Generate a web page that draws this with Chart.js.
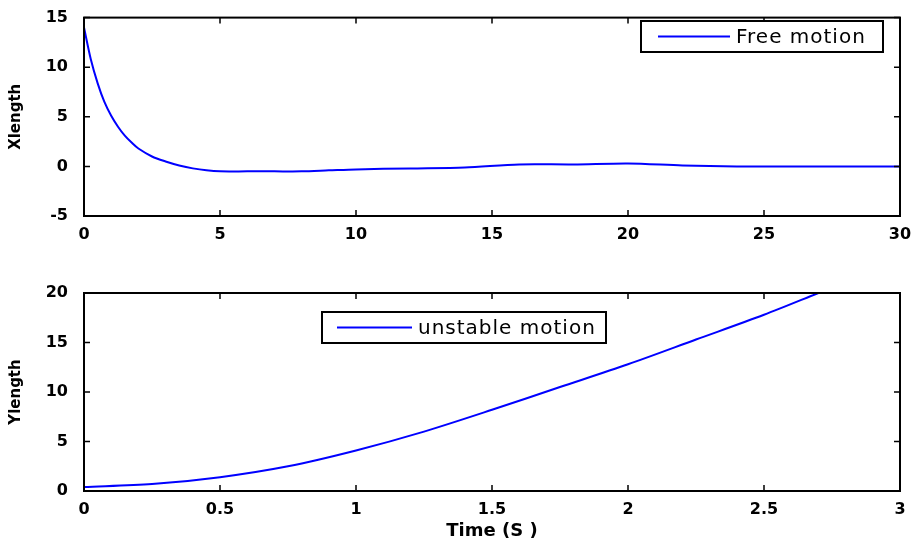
<!DOCTYPE html>
<html>
<head>
<meta charset="utf-8">
<script src="https://cdn.jsdelivr.net/npm/chart.js@4/dist/chart.umd.min.js"></script>
<style>
  html, body { margin: 0; padding: 0; background: #fff; }
  .box { position: absolute; left: 0; width: 915px; }
  #top { top: 0; height: 250px; }
  #bottom { top: 250px; height: 292px; }
</style>
</head>
<body>
<div class="box" id="top"><canvas id="chart_free"></canvas></div>
<div class="box" id="bottom"><canvas id="chart_unstable"></canvas></div>
<script>
// free motion (Xlength vs time)
const freeTime = [0, 0.25, 0.5, 0.75, 1, 1.25, 1.5, 1.75, 2, 2.5, 3, 3.5, 4, 4.5, 5, 6, 7, 8, 9, 10, 12, 14, 16, 18, 20, 22, 24, 26, 28, 30];
const freeX = [14, 10.8, 8.4, 6.5, 5.1, 4.0, 3.1, 2.4, 1.8, 1.0, 0.5, 0.1, -0.2, -0.4, -0.5, -0.5, -0.5, -0.5, -0.4, -0.3, -0.2, -0.1, 0.2, 0.2, 0.3, 0.1, 0.0, 0.0, 0.0, 0.0];

// unstable motion (Ylength vs time)
const unstTime = [0, 0.25, 0.5, 0.75, 1, 1.25, 1.5, 1.75, 2, 2.25, 2.5, 2.7];
const unstY = [0.4, 0.7, 1.4, 2.5, 4.1, 6.0, 8.2, 10.5, 12.8, 15.3, 17.8, 20];

const freeTicksX = [0, 5, 10, 15, 20, 25, 30];
const freeTicksY = [-5, 0, 5, 10, 15];
const unstTicksX = [0, 0.5, 1, 1.5, 2, 2.5, 3];
const unstTicksY = [0, 5, 10, 15, 20];

const tickFont = { family: 'DejaVu Sans', size: 16, weight: 'bold' };
const yTitleFont = { family: 'DejaVu Sans', size: 15, weight: 'bold' };
const xTitleFont = { family: 'DejaVu Sans', size: 18, weight: 'bold' };

// box frame + inward ticks, matlab style
const framePlugin = {
    id: 'frame',
    afterDraw(chart) {
        const ctx = chart.ctx;
        const a = chart.chartArea;
        ctx.save();
        ctx.strokeStyle = '#000';
        ctx.lineWidth = 2;
        ctx.strokeRect(a.left, a.top, a.right - a.left, a.bottom - a.top);
        ctx.lineWidth = 1.5;
        const len = 6;
        chart.scales.x.ticks.forEach(t => {
            const px = chart.scales.x.getPixelForValue(t.value);
            ctx.beginPath();
            ctx.moveTo(px, a.bottom); ctx.lineTo(px, a.bottom - len);
            ctx.moveTo(px, a.top); ctx.lineTo(px, a.top + len);
            ctx.stroke();
        });
        chart.scales.y.ticks.forEach(t => {
            const py = chart.scales.y.getPixelForValue(t.value);
            ctx.beginPath();
            ctx.moveTo(a.left, py); ctx.lineTo(a.left + len, py);
            ctx.moveTo(a.right, py); ctx.lineTo(a.right - len, py);
            ctx.stroke();
        });
        // legend box
        const lg = chart.options.plugins.boxLegend;
        ctx.lineWidth = 2;
        ctx.fillStyle = '#fff';
        ctx.fillRect(lg.x, lg.y, lg.w, lg.h);
        ctx.strokeRect(lg.x, lg.y, lg.w, lg.h);
        const my = lg.y + lg.h / 2;
        ctx.strokeStyle = '#0000ff';
        ctx.beginPath();
        ctx.moveTo(lg.x + lg.lineStart, my);
        ctx.lineTo(lg.x + lg.lineEnd, my);
        ctx.stroke();
        ctx.fillStyle = '#000';
        ctx.font = '20px "DejaVu Sans"';
        ctx.letterSpacing = '1px';
        ctx.textBaseline = 'middle';
        ctx.fillText(chart.data.datasets[0].label, lg.x + lg.lineEnd + 6, my + 1);
        ctx.restore();
    }
};

function makeChart(id, times, values, label, xTicks, yTicks, yTitle, xTitle, padTop, xHeight, legend) {
    return new Chart(document.getElementById(id).getContext('2d'), {
        type: 'line',
        data: {
            datasets: [{
                label: label,
                data: times.map((t, i) => ({ x: t, y: values[i] })),
                borderColor: '#0000ff',
                borderWidth: 2,
                pointRadius: 0,
                fill: false,
                tension: 0.3,
            }]
        },
        options: {
            animation: false,
            responsive: true,
            maintainAspectRatio: false,
            layout: { padding: { top: padTop, right: 15, left: 0, bottom: 0 } },
            plugins: {
                legend: { display: false },
                tooltip: { enabled: false },
                boxLegend: legend,
            },
            scales: {
                x: {
                    type: 'linear',
                    min: xTicks[0],
                    max: xTicks[xTicks.length - 1],
                    afterBuildTicks: s => { s.ticks = xTicks.map(v => ({ value: v })); },
                    afterFit: s => { s.height = xHeight; },
                    grid: { display: false },
                    border: { display: false },
                    ticks: { color: '#000', font: tickFont, padding: 1, maxRotation: 0, callback: v => String(v) },
                    title: { display: !!xTitle, text: xTitle, color: '#000', font: xTitleFont, padding: 0 },
                },
                y: {
                    type: 'linear',
                    min: yTicks[0],
                    max: yTicks[yTicks.length - 1],
                    afterBuildTicks: s => { s.ticks = yTicks.map(v => ({ value: v })); },
                    afterFit: s => { s.width = 84; },
                    grid: { display: false },
                    border: { display: false },
                    ticks: { color: '#000', font: tickFont, padding: 8, callback: v => String(v) },
                    title: { display: true, text: yTitle, color: '#000', font: yTitleFont, padding: { top: 7, bottom: 0 } },
                }
            }
        },
        plugins: [framePlugin]
    });
}

makeChart('chart_free', freeTime, freeX, 'Free motion', freeTicksX, freeTicksY, 'Xlength', '', 15, 34,
    { x: 641, y: 21, w: 242, h: 31, lineStart: 17, lineEnd: 89 });
makeChart('chart_unstable', unstTime, unstY, 'unstable motion', unstTicksX, unstTicksY, 'Ylength', 'Time (S )', 43, 51,
    { x: 322, y: 62, w: 284, h: 31, lineStart: 15, lineEnd: 90 });
</script>
</body>
</html>
